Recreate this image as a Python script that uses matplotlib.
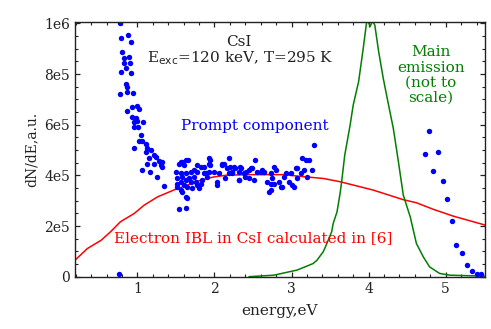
import matplotlib
matplotlib.use("Agg")
import matplotlib.pyplot as plt
from matplotlib.ticker import MultipleLocator
import numpy as np

# ---- data (y values in units of 1e5) ----
prompt_x = [0.78, 0.788, 0.884, 0.917, 0.80, 0.827, 0.891, 0.784, 0.827, 0.90,
            0.849, 0.917, 0.849, 0.865, 0.775, 0.868, 0.939, 0.862, 0.93, 1.0,
            1.02, 0.933, 0.978, 0.956, 1.0, 1.075, 0.956, 1.01, 1.043, 1.02,
            1.065, 1.107, 0.956, 1.13, 1.107, 1.172, 1.215, 1.237, 1.15, 1.13,
            1.215, 1.28, 1.323, 1.30, 1.323, 1.065, 1.163, 1.25, 1.344, 0.762,
            1.495, 1.538, 1.582, 1.655, 1.603, 1.56, 1.625, 1.69, 1.517, 1.582,
            1.56, 1.625, 1.668, 1.517, 1.56, 1.603, 1.647, 1.69, 1.732, 1.776,
            1.819, 1.862, 1.84, 1.776, 1.797, 1.712, 1.884, 1.926, 1.948, 1.926,
            1.906, 1.582, 1.625, 1.647, 1.538, 1.625, 1.517, 1.776, 1.862, 1.926,
            1.754, 1.819, 1.991, 2.056, 2.035, 2.10, 2.12, 2.185, 2.207, 2.272,
            2.314, 2.336, 2.185, 2.142, 2.229, 2.314, 2.40, 2.444, 2.039, 2.104,
            2.168, 2.233, 1.56, 1.625, 1.948, 2.25, 1.728,
            2.488, 2.53, 2.514, 2.556, 2.60, 2.643, 2.686, 2.728, 2.75, 2.772,
            2.793, 2.772, 2.728, 2.708, 2.728, 2.837, 2.88, 2.858, 2.90, 2.922,
            2.966, 2.987, 3.009, 3.031, 3.052, 3.074, 3.117, 3.138, 3.181, 3.16,
            3.203, 3.225, 3.268, 3.29, 2.384, 2.405, 2.449, 2.47, 2.34, 2.32,
            3.07, 2.62,
            4.785, 4.73, 4.90, 4.837, 4.959, 5.018, 5.079, 5.14, 5.208, 5.277,
            5.338, 5.406, 5.463]
prompt_y_e5 = [10.0, 9.42, 9.55, 9.26, 8.87, 8.64, 8.69, 8.09, 8.43, 8.43,
               8.23, 8.03, 7.61, 7.49, 7.21, 7.28, 7.24, 6.56, 6.72, 6.76,
               6.62, 6.32, 6.25, 6.11, 6.15, 6.11, 5.92, 5.91, 5.59, 5.34,
               5.36, 5.26, 5.08, 5.07, 4.93, 5.02, 4.80, 4.74, 4.67, 4.47,
               4.47, 4.58, 4.54, 4.41, 4.34, 4.21, 4.14, 3.94, 3.58, 0.10,
               4.14, 4.47, 4.54, 4.60, 4.41, 4.08, 4.08, 4.13, 3.88, 3.94,
               3.75, 3.81, 3.88, 3.55, 3.42, 3.62, 3.55, 3.75, 3.94, 4.14,
               4.34, 4.08, 3.81, 3.62, 3.49, 3.49, 4.08, 4.47, 4.60, 4.14,
               3.94, 3.35, 3.15, 3.09, 2.69, 2.71, 3.68, 4.41, 4.34, 4.67,
               3.75, 3.68, 4.14, 4.08, 3.75, 4.41, 4.47, 4.67, 4.34, 4.28,
               4.14, 4.34, 4.08, 3.88, 4.08, 3.81, 3.94, 4.21, 3.62, 4.47,
               4.28, 4.14, 4.54, 4.60, 4.43, 4.34, 4.21,
               4.28, 4.60, 3.81, 4.14, 4.14, 4.14, 3.75, 4.08, 3.88, 4.34,
               4.21, 3.68, 3.68, 3.35, 3.42, 3.75, 3.55, 3.55, 3.94, 4.08,
               3.75, 4.08, 3.62, 3.55, 4.28, 3.88, 4.08, 4.67, 4.60, 4.21,
               3.94, 4.60, 4.21, 5.20, 4.08, 4.14, 3.88, 4.28, 4.28, 3.81,
               4.28, 4.21,
               5.75, 4.84, 4.91, 4.17, 3.77, 3.05, 2.19, 1.26, 0.92, 0.45,
               0.23, 0.09, 0.09]

ibl_x = [0.19, 0.35, 0.53, 0.65, 0.78, 0.96, 1.09, 1.26, 1.47, 1.65, 1.82, 1.99,
         2.16, 2.47, 2.90, 3.12, 3.41, 3.63, 4.06, 4.45, 4.62, 4.84, 5.10, 5.51]
ibl_y_e5 = [0.65, 1.11, 1.44, 1.77, 2.17, 2.50, 2.83, 3.15, 3.42, 3.62, 3.81, 3.94,
            4.01, 4.03, 4.03, 3.96, 3.88, 3.75, 3.42, 3.04, 2.92, 2.66, 2.39, 2.04]

main_x = [2.45, 2.77, 3.07, 3.20, 3.28, 3.33, 3.41, 3.44, 3.52, 3.54, 3.59, 3.63,
          3.65, 3.69, 3.76, 3.80, 3.87, 3.93, 3.98, 4.02, 4.05, 4.08, 4.13, 4.19,
          4.25, 4.32, 4.38, 4.45, 4.54, 4.62, 4.71, 4.79, 4.92, 5.05, 5.51]
main_y_e5 = [0.0, 0.06, 0.26, 0.42, 0.52, 0.65, 0.98, 1.18, 1.77, 2.10, 2.56, 3.30,
             3.75, 4.80, 5.99, 6.78, 7.70, 9.02, 10.2, 9.88, 10.1, 9.94, 8.89, 7.83,
             6.91, 5.86, 4.67, 3.22, 2.36, 1.31, 0.78, 0.39, 0.13, 0.06, 0.02]

x_ticks = [1, 2, 3, 4, 5]
y_ticks_e5 = [0, 2, 4, 6, 8, 10]
y_tick_labels = ["0", "2e5", "4e5", "6e5", "8e5", "1e6"]

E5 = 1e5

plt.rcParams['font.family'] = ['DejaVu Serif']
plt.rcParams['mathtext.fontset'] = 'dejavusans'

fig = plt.figure(figsize=(4.91, 3.29), dpi=100)
ax = fig.add_axes([0.1527, 0.159, 0.8351, 0.775])

ax.plot(ibl_x, np.array(ibl_y_e5) * E5, color='#ff0000', lw=1.1)
ax.plot(main_x, np.array(main_y_e5) * E5, color='#007f00', lw=1.1)
ax.plot(prompt_x, np.array(prompt_y_e5) * E5, 'o', color='#0000ff', ms=3.9,
        mec='none', clip_on=True)

ax.set_xlim(0.19, 5.51)
ax.set_ylim(0, 1.007e6)
ax.set_xticks(x_ticks)
ax.set_yticks(np.array(y_ticks_e5) * E5)
ax.set_yticklabels(y_tick_labels)
ax.xaxis.set_minor_locator(MultipleLocator(0.2))
ax.yaxis.set_minor_locator(MultipleLocator(0.5 * E5))
ax.tick_params(which='both', direction='in', top=True, right=True,
               labelsize=10, colors='#222222', labelcolor='#222222')
ax.tick_params(which='major', length=3.3, width=0.9)
ax.tick_params(which='minor', length=2.0, width=0.8)
for s in ax.spines.values():
    s.set_linewidth(1.0)
    s.set_color('#222222')

ax.set_xlabel('energy,eV', fontsize=11, color='#222222', labelpad=6)
ax.set_ylabel('dN/dE,a.u.', fontsize=10, color='#222222', labelpad=4)

ax.text(2.32, 0.927e6, 'CsI', ha='center', va='center', fontsize=11,
        color='#222222')
ax.text(2.33, 0.862e6, r'E$_{\rm exc}$=120 keV, T=295 K', ha='center',
        va='center', fontsize=11, color='#222222')
ax.text(2.52, 0.595e6, 'Prompt component', ha='center', va='center',
        fontsize=11, color='#0000ff')
ax.text(4.81, 0.796e6, 'Main\nemission\n(not to\nscale)', ha='center',
        va='center', fontsize=11, color='#007f00', linespacing=1.1)
ax.text(0.695, 0.152e6, 'Electron IBL in CsI calculated in [6]', ha='left',
        va='center', fontsize=11, color='#ff0000')

fig.savefig('out.png', dpi=100, facecolor='white')
